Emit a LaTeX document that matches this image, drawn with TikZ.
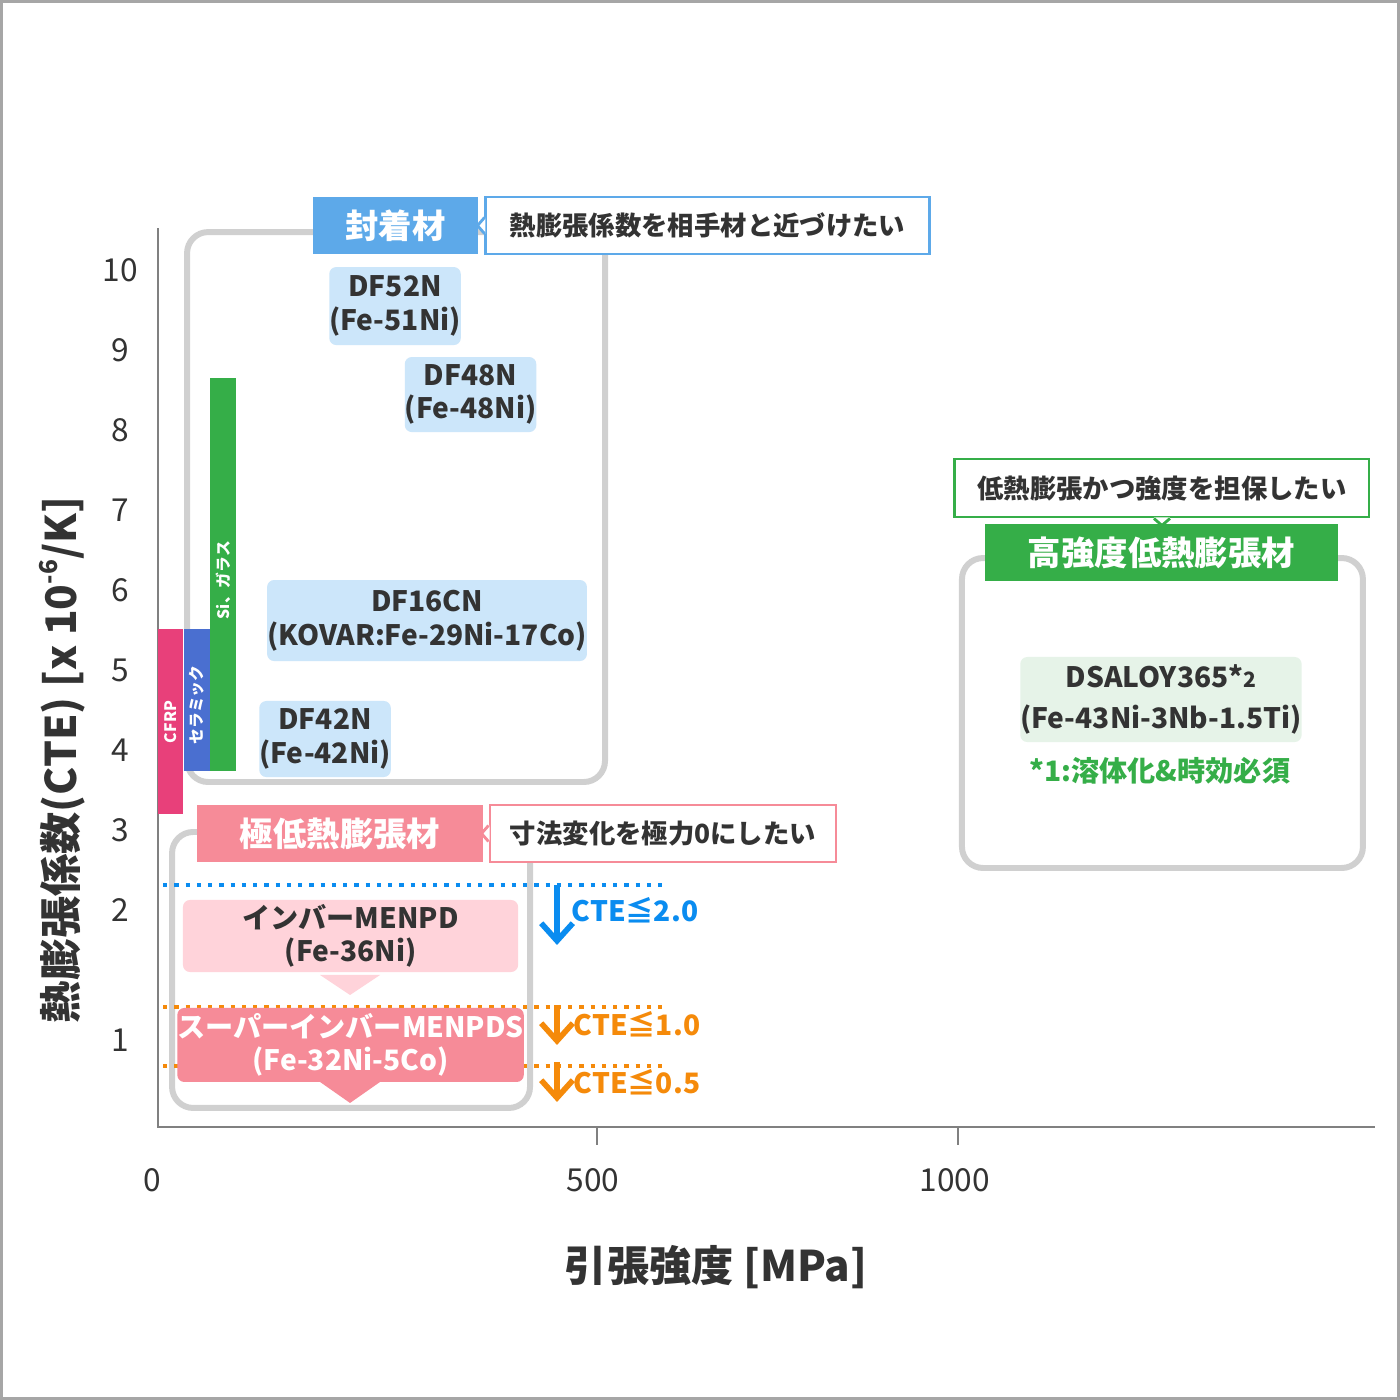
\documentclass[tikz,border=0pt]{standalone}
\usepackage{fontspec}
\setmainfont{Noto Sans CJK JP}
\usetikzlibrary{arrows.meta}

\definecolor{kaku}{HTML}{D0D0D0}
\definecolor{ao}{HTML}{5DA9E9}
\definecolor{usuao}{HTML}{CCE6FA}
\definecolor{aka}{HTML}{F68B98}
\definecolor{usuaka}{HTML}{FFD3DA}
\definecolor{midori}{HTML}{35AE48}
\definecolor{usumidori}{HTML}{E6F3E8}
\definecolor{cfrp}{HTML}{E8407A}
\definecolor{cera}{HTML}{4A6FD0}
\definecolor{cteao}{HTML}{0A8CF0}
\definecolor{ctedai}{HTML}{F58A0A}
\definecolor{moji}{HTML}{333333}

\begin{document}
\begin{tikzpicture}[x=0.01cm,y=-0.01cm,
  % 灰色の枠
  waku/.style={draw=kaku,line width=1.7pt,rounded corners=6pt},
  % 材料の箱
  zairyo/.style={rounded corners=2pt,inner sep=0pt,font=\bfseries\fontsize{8}{9.5}\selectfont,text=moji,align=center},
  % 見出し
  midashi/.style={inner sep=0pt,text=white,font=\bfseries\fontsize{9.5}{11}\selectfont},
  % 吹き出し
  fukidashi/.style={fill=white,line width=0.8pt,inner sep=0pt,font=\bfseries\fontsize{7.5}{9}\selectfont,text=moji},
  % 目盛り
  memori/.style={font=\fontsize{9}{10}\selectfont,text=moji},
  % 縦の棒
  bouji/.style={text=white,font=\bfseries\fontsize{4.5}{5}\selectfont,rotate=90}
  ]

  % 外枠
  \draw[fill=white,draw=gray!70,line width=0.9pt] (1.5,1.5) rectangle (1398.5,1398.5);

  % 軸
  \draw[gray,line width=0.8pt] (158,228) -- (158,1127) -- (1375,1127);
  \draw[gray,line width=0.8pt] (597,1127) -- (597,1145);
  \draw[gray,line width=0.8pt] (958,1127) -- (958,1145);

  % 目盛りの数字
  \foreach \v/\y in {10/270,9/350,8/430,7/510,6/590,5/670,4/750,3/830,2/910,1/1040}
    \node[memori] (ym\v) at (120,\y) {\v};
  \node[memori] (x0) at (152,1180) {0};
  \node[memori] (x500) at (593,1180) {500};
  \node[memori] (x1000) at (955,1180) {1000};

  % 軸の名前
  \node[rotate=90,font=\bfseries\fontsize{12}{14}\selectfont,text=moji] (ytitle) at (62,760) {熱膨張係数(CTE) [x 10\raisebox{0.8ex}{\fontsize{7}{8}\selectfont -6}/K]};
  \node[font=\bfseries\fontsize{12}{14}\selectfont,text=moji] (xtitle) at (716,1267) {引張強度 [MPa]};

  % 封着材のグループ
  \draw[waku] (187,232) rectangle (605,782);
  \node[midashi,fill=ao,minimum width=1.65cm,minimum height=0.57cm] (fuchaku) at (395.5,225.5) {封着材};
  \node[fukidashi,draw=ao,minimum width=4.43cm,minimum height=0.57cm] (fuchakuF) at (707.5,225.5) {熱膨張係数を相手材と近づけたい};
  \fill[white] (fuchakuF.west) ++(1,-8) -- ++(-8,8) -- ++(8,8) -- cycle;
  \draw[ao,line width=0.8pt] (fuchakuF.west) ++(0,-8) -- ++(-7,8) -- ++(7,8);

  \node[zairyo,fill=usuao,minimum width=1.24cm,minimum height=0.78cm] (df52) at (395,306) {DF52N\\(Fe-51Ni)};
  \node[zairyo,fill=usuao,minimum width=1.21cm,minimum height=0.75cm] (df48) at (470.5,394.5) {DF48N\\(Fe-48Ni)};
  \node[zairyo,fill=usuao,minimum width=2.8cm,minimum height=0.81cm] (df16) at (427,620.5) {DF16CN\\(KOVAR:Fe-29Ni-17Co)};
  \node[zairyo,fill=usuao,minimum width=1.24cm,minimum height=0.76cm] (df42) at (325,739) {DF42N\\(Fe-42Ni)};

  % 他の材料の棒
  \fill[cfrp] (158,629) rectangle (183,814);
  \node[bouji] (cfrp) at (170.5,722) {CFRP};
  \fill[cera] (184,629) rectangle (210,771);
  \node[bouji] (cera) at (197,705) {セラミック};
  \fill[midori] (210,378) rectangle (236,771);
  \node[bouji] (si) at (223,580) {Si、ガラス};

  % 極低熱膨張材のグループ
  \draw[waku] (172,832) rectangle (530,1108);
  \node[midashi,fill=aka,minimum width=2.86cm,minimum height=0.57cm] (gokutei) at (340,833.5) {極低熱膨張材};
  \node[fukidashi,draw=aka,minimum width=3.46cm,minimum height=0.57cm] (gokuteiF) at (663,833.5) {寸法変化を極力0にしたい};
  \fill[white] (gokuteiF.west) ++(1,-8) -- ++(-8,8) -- ++(8,8) -- cycle;
  \draw[aka,line width=0.8pt] (gokuteiF.west) ++(0,-8) -- ++(-7,8) -- ++(7,8);

  % 点線
  \draw[cteao,line width=1.2pt,dotted] (163,885) -- (668,885);
  \draw[ctedai,line width=1.2pt,dotted] (163,1007) -- (668,1007);
  \draw[ctedai,line width=1.2pt,dotted] (163,1066) -- (668,1066);

  \fill[usuaka] (320,975) -- (380,975) -- (350,995) -- cycle;
  \node[zairyo,fill=usuaka,minimum width=3.35cm,minimum height=0.72cm] (invar) at (350.5,936) {インバーMENPD\\(Fe-36Ni)};
  \fill[aka] (320,1082) -- (380,1082) -- (350,1103) -- cycle;
  \node[zairyo,fill=aka,text=white,minimum width=3.35cm,minimum height=0.74cm] (sinvar) at (350.5,1045) {スーパーインバーMENPDS\\(Fe-32Ni-5Co)};

  % CTEの矢印
  \coordinate (a1) at (557,885);
  \coordinate (a2) at (557,945);
  \coordinate (b1) at (557,1005);
  \coordinate (b2) at (557,1045);
  \coordinate (c1) at (557,1062);
  \coordinate (c2) at (557,1102);
  \draw[cteao,line width=1.6pt,-{Straight Barb[length=5pt,width=9pt]}] (a1) -- (a2);
  \draw[ctedai,line width=1.6pt,-{Straight Barb[length=5pt,width=9pt]}] (b1) -- (b2);
  \draw[ctedai,line width=1.6pt,-{Straight Barb[length=5pt,width=9pt]}] (c1) -- (c2);
  \node[text=cteao,font=\bfseries\fontsize{8}{9}\selectfont,anchor=west,inner sep=0pt] (cte2) at (571,910) {CTE≦2.0};
  \node[text=ctedai,font=\bfseries\fontsize{8}{9}\selectfont,anchor=west,inner sep=0pt] (cte1) at (573,1024) {CTE≦1.0};
  \node[text=ctedai,font=\bfseries\fontsize{8}{9}\selectfont,anchor=west,inner sep=0pt] (cte05) at (573,1082) {CTE≦0.5};

  % 高強度低熱膨張材のグループ
  \draw[waku] (962,558) rectangle (1363,868);
  \node[fukidashi,draw=midori,minimum width=4.14cm,minimum height=0.58cm] (kouF) at (1162,488) {低熱膨張かつ強度を担保したい};
  \node[midashi,fill=midori,minimum width=3.53cm,minimum height=0.57cm] (kou) at (1161.5,552.5) {高強度低熱膨張材};
  \fill[white] (kouF.south) ++(-8,-1) -- ++(8,8) -- ++(8,-8) -- cycle;
  \draw[midori,line width=0.8pt] (kouF.south) ++(-8,0) -- ++(8,7) -- ++(8,-7);
  \node[zairyo,fill=usumidori,minimum width=2.52cm,minimum height=0.85cm] (dsaloy) at (1161,699.5) {DSALOY365*{\fontsize{6}{7}\selectfont 2}\\[2pt](Fe-43Ni-3Nb-1.5Ti)};
  \node[text=midori,font=\bfseries\fontsize{8}{9}\selectfont] (chuui) at (1160,771) {*1:溶体化\&時効必須};

\end{tikzpicture}
\end{document}
